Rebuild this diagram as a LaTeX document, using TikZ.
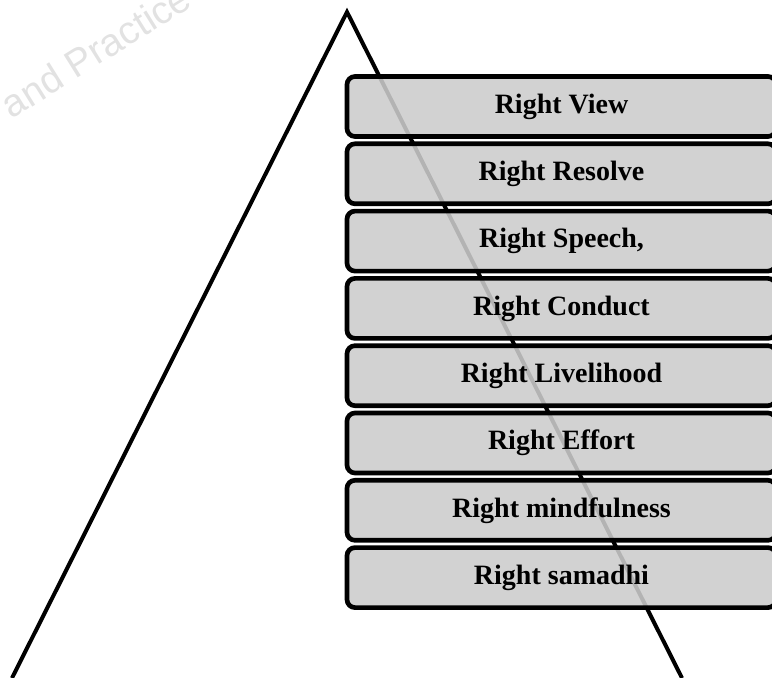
\documentclass[tikz,border=0pt]{standalone}
\usepackage{fontspec}
\setmainfont{Liberation Serif}
\newfontfamily\marcafont{Liberation Sans}
\usepackage{xcolor}
\usepackage{tikz}
\definecolor{GrisCaja}{RGB}{204,204,204}
\definecolor{GrisMarca}{RGB}{226,226,226}

\begin{document}
\begin{tikzpicture}[x=0.75pt,y=-0.75pt,
  sendero/.style={draw=black,line width=3.5pt,rounded corners=6pt,fill=GrisCaja,
    fill opacity=0.88,text opacity=1,minimum width=321.75pt,minimum height=45pt,
    inner sep=0pt,font=\fontsize{21}{25}\selectfont\bfseries}]
  \useasboundingbox (0,0) rectangle (772,678);
  \node[GrisMarca,rotate=32,anchor=base west,font=\marcafont\fontsize{29}{33}\selectfont] (marca) at (8,122) {and Practice};
  \coordinate (cima) at (347,12);
  \coordinate (izq) at (12,678);
  \coordinate (der) at (682,678);
  \draw[line width=3pt] (izq) -- (cima) -- (der);
  \node[sendero] (view) at (561.5,106.5) {Right View};
  \node[sendero] (resolve) at (561.5,173.8) {Right Resolve};
  \node[sendero] (speech) at (561.5,241.1) {Right Speech,};
  \node[sendero] (conduct) at (561.5,308.4) {Right Conduct};
  \node[sendero] (livelihood) at (561.5,375.7) {Right Livelihood};
  \node[sendero] (effort) at (561.5,443.0) {Right Effort};
  \node[sendero] (mindful) at (561.5,510.3) {Right mindfulness};
  \node[sendero] (samadhi) at (561.5,577.6) {Right samadhi};
\end{tikzpicture}
\end{document}
